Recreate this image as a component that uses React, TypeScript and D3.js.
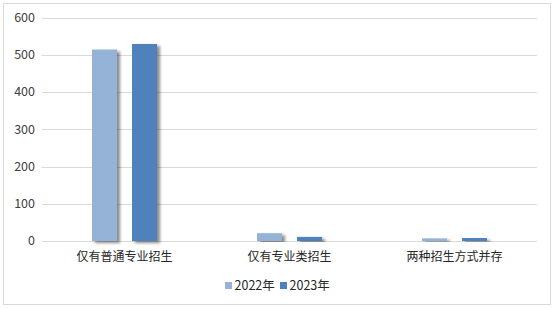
import React from "react";
import * as d3 from "d3";

const categories = ["仅有普通专业招生", "仅有专业类招生", "两种招生方式并存"];
const seriesNames = ["2022年", "2023年"];
const values2022 = [514, 21, 7];
const values2023 = [529, 11, 8];
const yTicks = [0, 100, 200, 300, 400, 500, 600];

const W = 554;
const H = 309;
const colors = ["#95B3D7", "#4F81BD"];
const FONT = "'Noto Sans CJK SC', 'Microsoft YaHei', sans-serif";

export default function App() {
  const plot = { left: 42, right: 537, top: 17.5, bottom: 241 };
  const x = d3
    .scaleBand<string>()
    .domain(categories)
    .range([plot.left, plot.right])
    .paddingInner(0)
    .paddingOuter(0);
  const y = d3.scaleLinear().domain([0, 600]).range([plot.bottom, plot.top]);
  const barW = 25;
  const gap = 15;
  const series = [values2022, values2023];

  return (
    <div style={{ position: "fixed", left: 0, top: 0 }}>
      <svg width={W} height={H} style={{ display: "block", fontFamily: FONT }}>
        <defs>
          <filter id="barShadow" x="-30%" y="-10%" width="180%" height="120%">
            <feDropShadow dx="3" dy="2" stdDeviation="1.4" floodColor="#000" floodOpacity="0.45" />
          </filter>
        </defs>
        <rect x={0} y={0} width={W} height={H} fill="#fff" />
        <rect x={3.5} y={3.5} width={547} height={301} fill="#fff" stroke="#d9d9d9" strokeWidth={1} />
        {yTicks.map((t) => (
          <g key={t}>
            <line
              x1={plot.left}
              x2={plot.right}
              y1={Math.round(y(t)) + 0.5}
              y2={Math.round(y(t)) + 0.5}
              stroke="#d9d9d9"
              strokeWidth={1}
            />
            <text
              x={35}
              y={y(t)}
              dy="0.35em"
              textAnchor="end"
              fontSize={12.5}
              fill="#404040"
            >
              {t}
            </text>
          </g>
        ))}
        {categories.map((c, i) => {
          const cx = (x(c) as number) + x.bandwidth() / 2;
          return (
            <g key={c}>
              {series.map((vals, s) => {
                const bx = cx - gap / 2 - barW + s * (barW + gap);
                return (
                  <rect
                    key={s}
                    x={bx}
                    y={y(vals[i])}
                    width={barW}
                    height={plot.bottom - y(vals[i])}
                    fill={colors[s]}
                    filter="url(#barShadow)"
                  />
                );
              })}
              <text x={cx} y={257} dy="0.35em" textAnchor="middle" fontSize={12} fill="#262626">
                {c}
              </text>
            </g>
          );
        })}
        {seriesNames.map((n, s) => {
          const lx = 225 + s * 55;
          return (
            <g key={n}>
              <rect x={lx} y={282} width={7} height={7} fill={colors[s]} />
              <text x={lx + 9.5} y={285.5} dy="0.35em" fontSize={12.5} fill="#262626">
                {n}
              </text>
            </g>
          );
        })}
      </svg>
    </div>
  );
}
